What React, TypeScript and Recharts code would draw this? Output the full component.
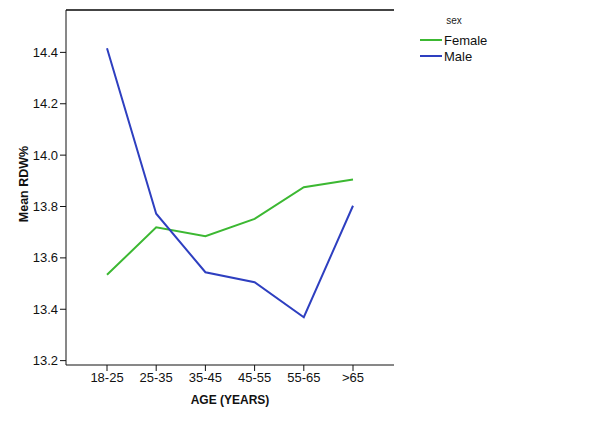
import React from "react";
import { LineChart, Line, XAxis, YAxis, ReferenceLine } from "recharts";

const categories = ["18-25", "25-35", "35-45", "45-55", "55-65", ">65"];
const femaleValues = [13.534, 13.719, 13.684, 13.752, 13.875, 13.905];
const maleValues = [14.416, 13.772, 13.544, 13.505, 13.369, 13.803];
const yTicks = [13.2, 13.4, 13.6, 13.8, 14.0, 14.2, 14.4];

const data = categories.map((c, i) => ({ age: c, Female: femaleValues[i], Male: maleValues[i] }));

const Y_MIN = 13.183;
const Y_MAX = 14.565;
const GREEN = "#3cb832";
const BLUE = "#2e3fc0";
const FONT = "'Liberation Sans', Arial, sans-serif";

const LegendBox = () => (
  <svg width={120} height={60} style={{ fontFamily: FONT, display: "block" }}>
    <text x={36} y={10} fontSize={10} textAnchor="middle" dominantBaseline="central" fill="#222">sex</text>
    <line x1={2} x2={24} y1={30} y2={30} stroke={GREEN} strokeWidth={2} />
    <text x={26} y={30} fontSize={13} dominantBaseline="central" fill="#111">Female</text>
    <line x1={2} x2={24} y1={46} y2={46} stroke={BLUE} strokeWidth={2} />
    <text x={26} y={46} fontSize={13} dominantBaseline="central" fill="#111">Male</text>
  </svg>
);

const YLabel = () => (
  <text
    x={24}
    y={184}
    transform="rotate(-90, 24, 184)"
    textAnchor="middle"
    dominantBaseline="central"
    fontSize={12.5}
    fontWeight="bold"
    fontFamily={FONT}
    fill="#111"
  >
    Mean RDW%
  </text>
);

export default function App() {
  return (
    <div style={{ position: "absolute", left: 0, top: 0, width: 605, height: 432, background: "#fff" }}>
      <LineChart
        width={605}
        height={432}
        data={data}
        margin={{ top: 10, right: 211, bottom: 0, left: 0 }}
        style={{ fontFamily: FONT }}
      >
        <XAxis
          dataKey="age"
          height={67}
          padding={{ left: 41, right: 41 }}
          tickSize={6}
          tickMargin={2}
          axisLine={{ stroke: "#111", strokeWidth: 1 }}
          tickLine={{ stroke: "#111" }}
          tick={{ fontSize: 13, fill: "#111", fontFamily: FONT }}
          interval={0}
          label={{
            value: "AGE (YEARS)",
            position: "insideBottom",
            offset: 28,
            style: { fontSize: 12, fontWeight: "bold", fill: "#111", fontFamily: FONT },
          }}
        />
        <YAxis
          width={66}
          domain={[Y_MIN, Y_MAX]}
          ticks={yTicks}
          type="number"
          interval={0}
          allowDataOverflow
          tickSize={6}
          tickMargin={2}
          axisLine={{ stroke: "#111", strokeWidth: 1 }}
          tickLine={{ stroke: "#111" }}
          tick={{ fontSize: 13, fill: "#111", fontFamily: FONT }}
          tickFormatter={(v: number) => v.toFixed(1)}
          label={<YLabel />}
        />
        <YAxis
          yAxisId="r"
          orientation="right"
          width={0}
          domain={[Y_MIN, Y_MAX]}
          type="number"
          allowDataOverflow
          tick={false}
          tickLine={false}
          axisLine={{ stroke: "#111", strokeWidth: 1 }}
        />
        <ReferenceLine y={Y_MAX} stroke="#444" strokeWidth={2} ifOverflow="visible" />
        <Line
          type="linear"
          dataKey="Female"
          stroke={GREEN}
          strokeWidth={2}
          dot={false}
          activeDot={false}
          isAnimationActive={false}
        />
        <Line
          yAxisId="r"
          type="linear"
          dataKey="Male"
          stroke={BLUE}
          strokeWidth={2}
          dot={false}
          activeDot={false}
          isAnimationActive={false}
        />
      </LineChart>
      <div style={{ position: "absolute", left: 418, top: 10 }}>
        <LegendBox />
      </div>
    </div>
  );
}
